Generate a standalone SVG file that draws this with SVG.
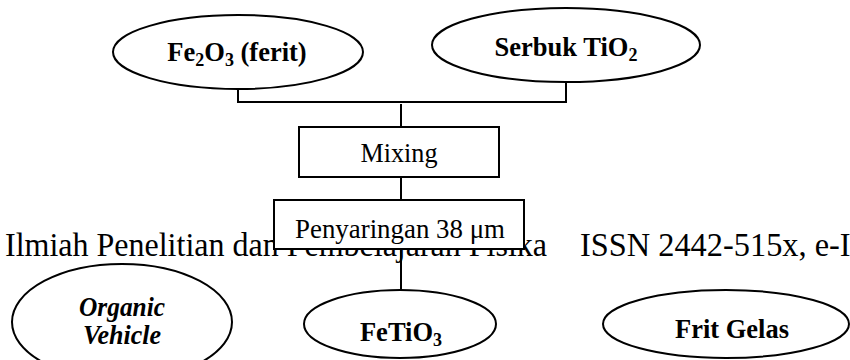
<svg xmlns="http://www.w3.org/2000/svg" width="850" height="360" viewBox="0 0 850 360">
<style>
.sh{fill:#fff;stroke:#000;stroke-width:2}
.ln{stroke:#000;stroke-width:2;fill:none}
.b{font-family:"Liberation Serif","Times New Roman",serif;font-weight:bold;font-size:26.5px;fill:#000;text-anchor:middle}
.bi{font-family:"Liberation Serif","Times New Roman",serif;font-weight:bold;font-style:italic;font-size:28px;fill:#000;text-anchor:middle}
.r{font-family:"Liberation Serif","Times New Roman",serif;font-size:27px;fill:#000;text-anchor:middle}
.hd{font-family:"Liberation Serif","Times New Roman",serif;font-size:34px;fill:#000}
.sub{font-size:18px}
</style>
<rect width="850" height="360" fill="#fff"/>
<text class="hd" x="5" y="256" textLength="542" lengthAdjust="spacingAndGlyphs">Ilmiah Penelitian dan Pembelajaran Fisika</text>
<text class="hd" x="580" y="256" textLength="330" lengthAdjust="spacingAndGlyphs">ISSN 2442-515x, e-ISSN</text>
<g id="connectors">
<path class="ln" d="M238 89V102H566V81"/>
<path class="ln" d="M401 104V127"/>
<path class="ln" d="M401 177V200"/>
<path class="ln" d="M401 249V291"/>
</g>
<g id="fe2o3">
<ellipse class="sh" cx="238" cy="52" rx="125" ry="37"/>
<text class="b" x="237" y="61">Fe<tspan class="sub" dy="5">2</tspan><tspan dy="-5">O</tspan><tspan class="sub" dy="5">3</tspan><tspan dy="-5"> (ferit)</tspan></text>
</g>
<g id="tio2">
<ellipse class="sh" cx="566" cy="45" rx="134" ry="37"/>
<text class="b" x="566" y="56">Serbuk TiO<tspan class="sub" dy="5">2</tspan></text>
</g>
<g id="mixing">
<rect class="sh" x="299" y="127" width="200" height="50"/>
<text class="r" x="399" y="162" textLength="77" lengthAdjust="spacingAndGlyphs">Mixing</text>
</g>
<g id="penyaringan">
<rect class="sh" x="274" y="200" width="250" height="49"/>
<text class="r" x="400" y="238" textLength="210" lengthAdjust="spacingAndGlyphs">Penyaringan 38 μm</text>
</g>
<g id="organic">
<ellipse class="sh" cx="122" cy="322" rx="110" ry="58"/>
<text class="bi" x="122" y="316" textLength="86" lengthAdjust="spacingAndGlyphs">Organic</text>
<text class="bi" x="122" y="344" textLength="78" lengthAdjust="spacingAndGlyphs">Vehicle</text>
</g>
<g id="fetio3">
<ellipse class="sh" cx="400" cy="324" rx="96" ry="34"/>
<text class="b" x="401" y="341">FeTiO<tspan class="sub" dy="5">3</tspan></text>
</g>
<g id="frit">
<ellipse class="sh" cx="726" cy="324" rx="123" ry="34"/>
<text class="b" x="732" y="338" textLength="114" lengthAdjust="spacingAndGlyphs">Frit Gelas</text>
</g>
</svg>
